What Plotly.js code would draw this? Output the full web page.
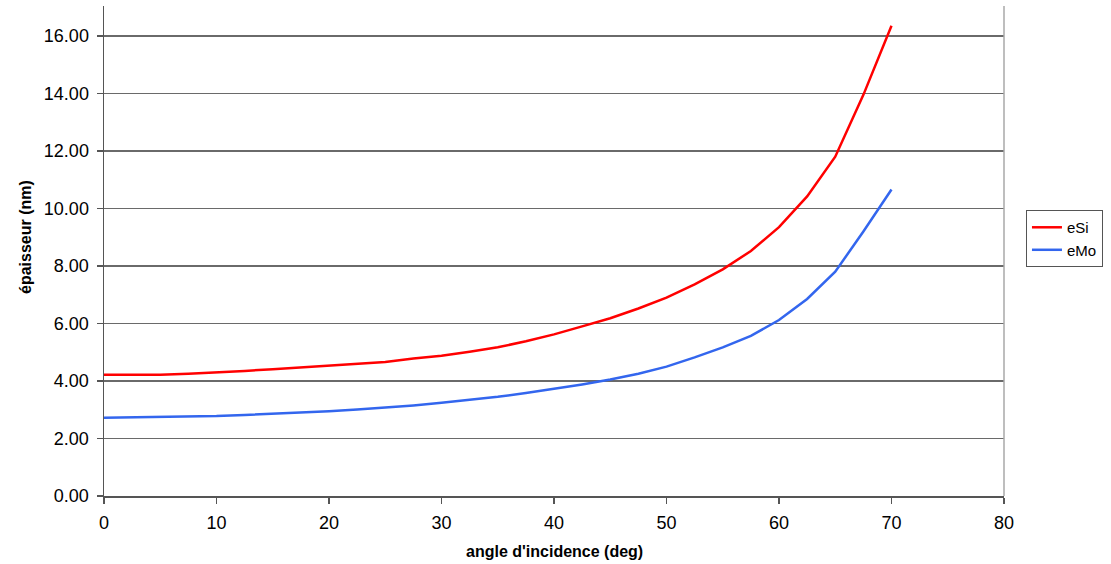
<!DOCTYPE html>
<html>
<head>
<meta charset="utf-8">
<script src="https://cdn.plot.ly/plotly-3.0.1.min.js"></script>
<style>
  html, body { margin: 0; padding: 0; background: #ffffff; }
  #chart { width: 1111px; height: 564px; }
</style>
</head>
<body>
<div id="chart"></div>
<script>
const angles = [0, 2.5, 5, 7.5, 10, 12.5, 15, 17.5, 20, 22.5, 25, 27.5, 30, 32.5, 35,
  37.5, 40, 42.5, 45, 47.5, 50, 52.5, 55, 57.5, 60, 62.5, 65, 67.5, 70];
const eSi = [4.22, 4.22, 4.22, 4.25, 4.29, 4.35, 4.41, 4.47, 4.52, 4.60, 4.66, 4.78, 4.88, 5.02, 5.17,
  5.38, 5.62, 5.90, 6.18, 6.52, 6.90, 7.36, 7.88, 8.52, 9.35, 10.42, 11.80, 13.95, 16.35];
const eMo = [2.72, 2.73, 2.74, 2.75, 2.78, 2.82, 2.86, 2.91, 2.95, 3.01, 3.07, 3.15, 3.24, 3.34, 3.45,
  3.58, 3.72, 3.88, 4.05, 4.25, 4.50, 4.82, 5.17, 5.57, 6.12, 6.85, 7.80, 9.20, 10.66];
const yTicks = [0, 2, 4, 6, 8, 10, 12, 14, 16];
const yTickText = ["0.00", "2.00", "4.00", "6.00", "8.00", "10.00", "12.00", "14.00", "16.00"];
const xTicks = [0, 10, 20, 30, 40, 50, 60, 70, 80];
const seriesNames = ["eSi", "eMo"];
const xTitle = "angle d'incidence (deg)";
const yTitle = "épaisseur (nm)";

const font = "Liberation Sans, Arial, sans-serif";

const traces = [
  { x: angles, y: eSi, name: seriesNames[0], type: "scatter", mode: "lines",
    line: { color: "#ff0000", width: 2.5 } },
  { x: angles, y: eMo, name: seriesNames[1], type: "scatter", mode: "lines",
    line: { color: "#3366ee", width: 2.5 } }
];

const layout = {
  width: 1111, height: 564,
  margin: { l: 104, r: 107, t: 6, b: 68, pad: 0 },
  paper_bgcolor: "#ffffff",
  plot_bgcolor: "#ffffff",
  font: { family: font, size: 17, color: "#000000" },
  showlegend: true,
  legend: {
    x: 1.0244, y: 0.5836, xanchor: "left", yanchor: "top",
    bgcolor: "#ffffff", bordercolor: "#555555", borderwidth: 1,
    font: { family: font, size: 15, color: "#000000" },
    tracegroupgap: 0, itemwidth: 30
  },
  xaxis: {
    range: [0, 80], tickvals: xTicks, ticktext: xTicks.map(String),
    showgrid: false, zeroline: false,
    showline: true, linecolor: "#555555", linewidth: 1.5,
    ticks: "outside", ticklen: 6, tickcolor: "#555555", tickwidth: 1.5,
    ticklabelstandoff: 4,
    tickfont: { family: font, size: 18, color: "#000000" },
    fixedrange: true
  },
  yaxis: {
    range: [0, 17.04], tickvals: yTicks, ticktext: yTickText,
    showgrid: true, gridcolor: "#6a6a6a", gridwidth: 1.5,
    zeroline: false,
    showline: true, linecolor: "#555555", linewidth: 1.5,
    ticks: "outside", ticklen: 6, tickcolor: "#555555", tickwidth: 1.5,
    ticklabelstandoff: 4,
    tickfont: { family: font, size: 18, color: "#000000" },
    fixedrange: true
  },
  shapes: [
    { type: "line", xref: "paper", yref: "paper", x0: 1, x1: 1, y0: 0, y1: 1,
      line: { color: "#a8a8a8", width: 1.5 } }
  ],
  annotations: [
    { text: "<b>" + xTitle + "</b>", xref: "paper", yref: "paper",
      x: 0.5, y: (496 - 551) / 490, xanchor: "center", yanchor: "middle",
      showarrow: false, font: { family: font, size: 16, color: "#000000" } },
    { text: "<b>" + yTitle + "</b>", xref: "paper", yref: "paper",
      x: (25 - 104) / 900, y: (496 - 237) / 490, xanchor: "center", yanchor: "middle",
      textangle: -90, showarrow: false, font: { family: font, size: 16, color: "#000000" } }
  ]
};

Plotly.newPlot("chart", traces, layout, { displayModeBar: false, staticPlot: true });
</script>
</body>
</html>
